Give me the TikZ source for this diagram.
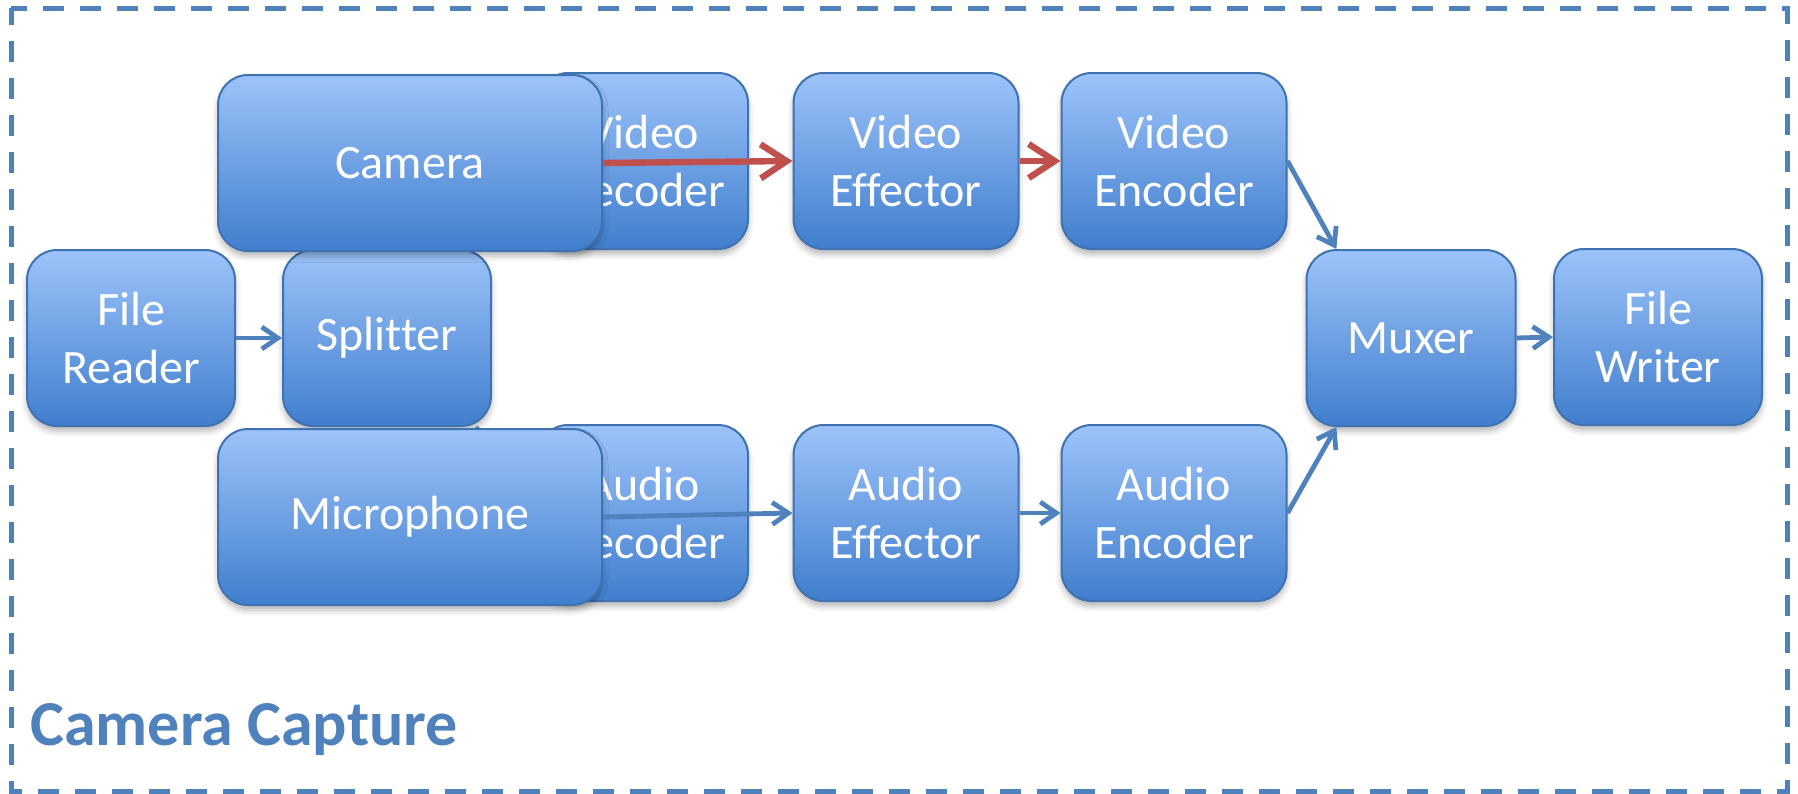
\documentclass[tikz,border=0pt]{standalone}
\usepackage{fontspec}
\setmainfont{Carlito}[Ligatures=CommonOff]
\usetikzlibrary{arrows.meta,shadows.blur}

\definecolor{blaufosc}{RGB}{63,114,176}
\definecolor{blauclar}{RGB}{157,195,250}
\definecolor{blaumig}{RGB}{64,126,205}
\definecolor{blauvora}{RGB}{79,129,189}
\definecolor{vermell}{RGB}{192,80,77}

\begin{document}
\begin{tikzpicture}[x=0.5pt,y=-0.5pt,
		caixa/.style={draw=blaufosc,line width=1pt,rounded corners=15pt,
			top color=blauclar,bottom color=blaumig,
			blur shadow={shadow xshift=0pt,shadow yshift=-2.5pt,shadow blur radius=3pt,shadow opacity=30},
			text=white,align=center,inner sep=0pt,minimum height=88pt,minimum width=104pt,
			font=\fontsize{24}{29}\selectfont},
		fletxa/.style={draw=blauvora,line width=2.4pt,-{Straight Barb[length=8pt,width=11pt]}},
		fletxavermella/.style={draw=vermell,line width=3.2pt,-{Straight Barb[length=13pt,width=17pt]}}]
		\useasboundingbox (0,0) rectangle (1798,793);
		
		% marc discontinu
		\draw[blauvora,line width=2.5pt,dash pattern=on 10.5pt off 8pt,dash phase=2pt]
		(11,8) -- (11,791) -- (1787,791) -- (1787,8) -- cycle;
		\node[anchor=base west,inner sep=0pt,text=blauvora,font=\fontsize{32}{36}\selectfont\bfseries] (titol) at (30,745) {Camera Capture};
		
		% entrada
		\node[caixa] (lector) at (131,338) {File\\Reader};
		\node[caixa] (divisor) at (387,338) {Splitter};
		\draw[fletxa] (lector.east) -- (divisor.west);
		
		% descodificadors, tapats per la càmera i el micròfon
		\node[caixa,minimum width=105pt] (vdesc) at (643,161) {Video\\Decoder};
		\node[caixa,minimum width=105pt] (adesc) at (643,513) {Audio\\Decoder};
		\draw[fletxa] (divisor.45) -- (vdesc.west);
		\draw[fletxa] (divisor.315) -- (adesc.west);
		
		\node[caixa,minimum width=192pt] (camera) at (410,163) {Camera};
		\node[caixa,minimum width=192pt] (micro) at (410,517) {Microphone};
		
		% fila de vídeo
		\node[caixa,minimum width=112.5pt] (vefecte) at (906,161) {Video\\Effector};
		\node[caixa,minimum width=112.5pt] (vcodif) at (1174,161) {Video\\Encoder};
		\draw[fletxavermella] (camera.east) -- (vefecte.west);
		\draw[fletxavermella] (vefecte.east) -- (vcodif.west);
		
		% fila d'àudio
		\node[caixa,minimum width=112.5pt] (aefecte) at (906,513) {Audio\\Effector};
		\node[caixa,minimum width=112.5pt] (acodif) at (1174,513) {Audio\\Encoder};
		\draw[fletxa] (micro.east) -- (aefecte.west);
		\draw[fletxa] (aefecte.east) -- (acodif.west);
		
		% sortida
		\node[caixa,minimum width=104.5pt] (mux) at (1411,338) {Muxer};
		\node[caixa] (escriptor) at (1658,337) {File\\Writer};
		\draw[fletxa] (vcodif.east) -- (mux.130);
		\draw[fletxa] (acodif.east) -- (mux.230);
		\draw[fletxa] (mux.east) -- (escriptor.west);
	\end{tikzpicture}
\end{document}
